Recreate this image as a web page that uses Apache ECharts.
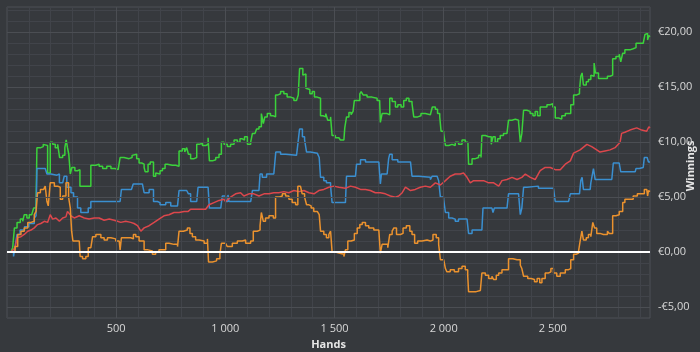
<!DOCTYPE html>
<html>
<head>
<meta charset="utf-8">
<script src="https://cdn.jsdelivr.net/npm/echarts@6/dist/echarts.min.js"></script>
<style>
html,body{margin:0;padding:0;background:#36393d;}
#chart{width:700px;height:352px;}
</style>
</head>
<body>
<div id="chart"></div>
<script>
// Tick labels
const xMajorTicks = [500, 1000, 1500, 2000, 2500];
const yMajorTicks = [-5, 0, 5, 10, 15, 20];

// Series data: [hand, winnings €]
const green = [[0,0],[18,0.1],[26,0.4],[34,2.2],[46,2.7],[61,3.0],[72,2.8],[79,3.4],[91,3.1],[102,3.4],[113,3.3],[122,4.0],[133,4.2],[137,9.5],[155,9.6],[166,9.8],[175,9.7],[186,7.2],[193,7.2],[198,10.0],[209,9.8],[221,9.5],[232,9.8],[241,8.6],[255,8.8],[265,9.5],[271,10.2],[277,9.5],[283,8.9],[290,7.1],[297,7.7],[311,7.4],[323,7.5],[334,6.0],[372,6.0],[384,7.9],[407,8.0],[422,7.8],[438,7.6],[457,7.8],[476,7.6],[494,7.5],[509,7.4],[518,8.6],[536,8.5],[559,8.6],[573,8.8],[582,8.9],[594,8.5],[605,8.1],[617,8.0],[628,7.7],[633,7.3],[646,8.0],[656,8.2],[663,8.2],[671,6.9],[681,7.2],[689,7.1],[701,7.4],[712,7.6],[724,8.0],[735,7.9],[757,7.9],[773,7.8],[788,9.2],[803,9.4],[814,9.1],[823,9.5],[831,8.9],[841,8.5],[857,8.6],[869,9.8],[880,9.9],[895,9.7],[910,9.8],[921,10.4],[927,8.3],[941,8.4],[956,8.6],[971,8.9],[982,10.0],[994,9.8],[1009,9.6],[1024,9.8],[1040,10.2],[1055,10.0],[1067,10.3],[1078,10.2],[1088,10.5],[1101,9.8],[1116,10.0],[1124,10.8],[1136,10.9],[1143,11.2],[1154,11.4],[1165,12.6],[1174,11.7],[1181,12.3],[1192,12.6],[1207,12.4],[1220,12.3],[1230,14.3],[1241,14.4],[1253,14.6],[1268,14.4],[1283,14.1],[1299,14.0],[1314,13.8],[1326,13.7],[1334,14.3],[1340,16.7],[1349,16.7],[1355,16.1],[1363,16.2],[1369,14.9],[1378,14.8],[1387,14.4],[1398,14.6],[1408,14.1],[1421,14.1],[1430,14.0],[1436,12.4],[1448,12.3],[1460,12.6],[1469,12.0],[1482,12.3],[1489,10.6],[1504,10.4],[1520,10.5],[1527,10.2],[1543,10.2],[1547,11.3],[1555,12.3],[1566,12.7],[1576,12.5],[1585,12.8],[1591,13.8],[1604,13.8],[1616,14.4],[1622,14.6],[1631,14.3],[1649,14.1],[1672,14.0],[1695,13.8],[1707,13.6],[1710,11.8],[1718,12.6],[1741,12.5],[1753,14.0],[1764,13.7],[1779,13.2],[1790,13.4],[1805,13.2],[1817,13.8],[1829,14.0],[1841,13.7],[1855,13.5],[1863,12.3],[1881,12.4],[1896,12.6],[1916,12.5],[1939,12.5],[1948,13.2],[1962,13.0],[1972,12.6],[1982,12.3],[1988,11.0],[2000,10.8],[2008,9.7],[2023,9.8],[2038,9.7],[2053,10.0],[2068,9.8],[2084,10.2],[2099,10.0],[2111,10.0],[2114,8.0],[2130,8.5],[2145,8.6],[2160,8.8],[2171,8.6],[2175,10.6],[2191,10.5],[2206,10.5],[2218,9.8],[2226,10.5],[2236,10.0],[2247,10.3],[2259,10.6],[2274,10.8],[2290,10.8],[2297,12.0],[2313,12.1],[2328,12.0],[2343,11.8],[2351,10.0],[2358,10.8],[2366,12.9],[2381,12.8],[2396,12.6],[2409,12.4],[2419,12.8],[2430,12.4],[2442,13.2],[2457,13.2],[2473,13.4],[2488,13.5],[2500,13.2],[2511,12.2],[2526,12.1],[2541,12.4],[2557,12.6],[2572,12.6],[2582,13.4],[2595,14.3],[2610,14.4],[2622,14.7],[2628,16.0],[2634,16.3],[2640,15.2],[2653,15.5],[2663,15.7],[2674,16.1],[2683,16.0],[2689,17.2],[2695,16.3],[2709,15.8],[2732,15.8],[2750,16.0],[2762,16.1],[2774,17.6],[2789,17.8],[2804,18.0],[2811,17.3],[2820,18.1],[2830,18.4],[2853,18.5],[2868,18.6],[2881,19.0],[2899,19.0],[2914,19.1],[2922,19.8],[2929,19.9],[2934,19.3],[2940,19.7],[2945,19.6]];

const blue = [[0,0],[18,0],[30,-0.4],[37,0.5],[46,1.6],[60,2.0],[80,2.3],[100,2.6],[125,3.1],[133,3.3],[137,7.6],[175,7.6],[183,7.1],[201,7.0],[229,7.1],[240,6.3],[255,6.3],[262,6.9],[274,5.9],[293,5.4],[305,5.0],[323,4.0],[338,3.6],[360,3.6],[372,4.0],[384,4.6],[430,4.6],[476,4.6],[518,4.6],[524,5.7],[570,5.8],[578,6.2],[620,6.2],[628,5.4],[651,5.7],[671,4.6],[689,4.5],[701,4.3],[727,4.5],[750,4.2],[781,4.2],[788,5.6],[823,5.6],[831,5.3],[841,4.6],[869,4.6],[875,5.9],[921,5.9],[927,4.0],[979,4.0],[986,5.1],[1001,4.6],[1012,5.2],[1017,4.6],[1116,4.6],[1124,5.6],[1154,5.7],[1159,7.1],[1169,6.8],[1189,7.1],[1222,7.1],[1231,9.1],[1253,8.9],[1276,8.8],[1326,8.8],[1332,9.8],[1340,11.2],[1347,11.2],[1353,10.5],[1363,10.2],[1372,9.1],[1390,9.0],[1421,8.9],[1430,8.6],[1436,6.8],[1451,6.5],[1463,6.3],[1482,6.0],[1489,4.5],[1550,4.5],[1555,6.9],[1596,6.9],[1601,8.0],[1619,8.4],[1642,8.2],[1703,8.2],[1707,7.1],[1710,6.2],[1715,7.1],[1741,7.2],[1748,8.5],[1753,8.9],[1764,8.4],[1790,8.2],[1848,8.2],[1855,6.9],[1886,6.8],[1939,6.6],[1947,6.9],[1970,6.8],[1977,6.5],[1985,5.0],[2000,4.8],[2008,3.6],[2023,3.1],[2038,3.0],[2053,2.8],[2068,3.0],[2107,3.0],[2114,1.7],[2130,2.0],[2175,2.0],[2180,4.0],[2221,4.0],[2226,3.6],[2232,4.0],[2290,4.0],[2297,5.3],[2343,5.3],[2351,3.4],[2358,4.0],[2366,5.9],[2381,6.0],[2434,5.8],[2503,5.8],[2511,4.6],[2572,4.6],[2580,5.3],[2622,5.3],[2628,6.5],[2634,6.8],[2640,5.7],[2671,5.7],[2674,6.3],[2683,6.3],[2686,7.6],[2694,6.6],[2770,6.6],[2777,8.1],[2804,8.1],[2811,7.3],[2877,7.3],[2881,7.6],[2896,7.7],[2914,7.8],[2919,8.6],[2932,8.6],[2938,8.2],[2945,8.2]];

const red = [[0,0],[18,0],[37,0.4],[46,1.3],[64,1.4],[79,1.6],[95,1.9],[110,2.0],[125,2.2],[140,2.5],[155,2.6],[171,2.8],[186,2.7],[198,3.4],[209,3.0],[224,3.1],[240,2.8],[255,3.1],[270,3.2],[277,3.7],[293,3.3],[308,3.1],[331,3.3],[354,3.1],[376,3.0],[399,3.1],[422,3.1],[445,2.9],[468,3.0],[491,2.9],[506,2.8],[521,2.7],[544,2.8],[567,2.7],[582,2.6],[598,2.4],[613,1.9],[628,2.2],[651,2.4],[674,2.7],[696,3.0],[719,3.3],[742,3.4],[765,3.6],[788,3.6],[811,3.7],[830,3.7],[841,3.9],[864,3.9],[887,3.9],[910,3.9],[925,4.3],[948,4.5],[971,4.7],[994,4.8],[1001,4.6],[1024,5.0],[1047,5.3],[1070,5.4],[1085,5.1],[1108,5.3],[1131,5.3],[1154,5.1],[1177,5.3],[1200,5.3],[1222,5.4],[1245,5.4],[1268,5.5],[1291,5.4],[1314,5.6],[1337,5.5],[1360,5.6],[1383,5.4],[1406,5.3],[1428,5.6],[1451,5.7],[1474,5.9],[1497,6.0],[1520,5.9],[1550,5.8],[1573,6.0],[1596,5.9],[1619,5.7],[1642,5.7],[1664,5.6],[1687,5.4],[1710,5.4],[1733,5.3],[1756,5.1],[1779,5.0],[1794,5.1],[1810,5.4],[1825,5.9],[1848,5.6],[1870,5.7],[1893,5.9],[1916,6.0],[1939,5.9],[1962,6.3],[1985,6.1],[2008,6.5],[2030,6.9],[2053,7.1],[2076,7.1],[2091,7.2],[2107,6.8],[2122,6.3],[2137,6.5],[2160,6.5],[2183,6.5],[2206,6.3],[2229,6.3],[2252,6.0],[2267,6.5],[2290,6.6],[2313,6.8],[2336,6.6],[2358,6.8],[2374,7.1],[2397,6.8],[2419,6.6],[2442,7.4],[2465,7.7],[2488,7.7],[2511,7.5],[2534,7.5],[2557,8.0],[2580,8.3],[2595,9.0],[2625,9.3],[2656,9.8],[2678,9.6],[2701,9.3],[2716,9.1],[2739,9.2],[2762,9.3],[2785,9.5],[2808,10.0],[2815,10.8],[2830,10.9],[2853,11.1],[2884,11.3],[2907,11.1],[2930,11.0],[2940,11.4],[2945,11.3]];

const orange = [[0,0],[18,0],[37,0.5],[49,1.6],[64,1.9],[79,2.2],[95,2.7],[110,2.8],[125,3.4],[133,3.7],[140,5.4],[153,5.7],[168,5.6],[175,6.0],[183,4.6],[189,4.2],[198,6.3],[217,6.0],[232,5.9],[244,4.8],[255,5.1],[270,6.3],[282,5.0],[290,4.0],[296,1.9],[302,1.0],[316,1.0],[331,1.0],[335,-0.4],[346,-0.6],[361,-0.4],[372,0.4],[384,0.4],[392,1.4],[407,1.6],[430,1.3],[445,1.1],[460,1.3],[476,1.2],[498,1.0],[514,1.0],[518,0.2],[524,1.3],[544,1.3],[567,1.2],[579,1.6],[590,1.4],[605,1.0],[628,0.2],[646,0.1],[666,-0.2],[681,0.0],[696,0.2],[712,0.2],[727,0.8],[742,0.7],[765,0.7],[781,0.5],[788,1.9],[808,2.0],[826,2.2],[838,1.7],[849,1.4],[864,1.1],[880,1.0],[903,0.8],[918,1.2],[923,-0.9],[941,-0.8],[960,-0.6],[975,-0.2],[982,0.8],[1001,0.7],[1009,0.5],[1032,0.8],[1055,1.0],[1078,1.1],[1093,0.8],[1116,1.0],[1128,1.9],[1146,2.0],[1159,2.4],[1165,3.6],[1174,2.8],[1184,3.1],[1200,3.3],[1220,3.1],[1230,5.0],[1245,5.1],[1261,5.3],[1276,5.1],[1291,4.8],[1306,4.5],[1322,4.3],[1332,6.0],[1344,6.0],[1352,5.3],[1363,5.0],[1372,4.3],[1383,4.2],[1393,4.0],[1405,3.7],[1421,3.6],[1430,3.4],[1436,1.9],[1451,1.6],[1463,1.3],[1474,1.6],[1482,1.9],[1489,0.0],[1504,-0.1],[1524,-0.2],[1543,-0.4],[1550,0.2],[1561,1.0],[1576,1.1],[1591,1.7],[1604,2.2],[1616,2.5],[1627,2.7],[1642,2.4],[1657,2.2],[1680,2.0],[1703,1.9],[1710,-0.1],[1718,0.7],[1733,0.7],[1744,0.4],[1753,1.6],[1764,1.9],[1772,2.2],[1784,1.6],[1802,1.7],[1814,2.2],[1829,2.4],[1845,1.9],[1855,1.6],[1867,0.8],[1881,1.0],[1901,1.1],[1924,1.0],[1939,1.1],[1951,1.6],[1966,1.3],[1977,0.7],[1985,-0.7],[2000,-0.7],[2008,-1.5],[2015,-1.8],[2030,-1.6],[2049,-1.8],[2068,-1.5],[2084,-1.3],[2099,-1.6],[2110,-2.1],[2114,-3.6],[2130,-3.6],[2149,-3.5],[2168,-3.5],[2175,-1.9],[2191,-2.1],[2206,-2.4],[2221,-2.2],[2229,-2.5],[2241,-2.1],[2252,-1.9],[2267,-1.6],[2282,-1.6],[2297,-0.6],[2317,-0.7],[2336,-0.7],[2351,-1.2],[2358,-1.5],[2366,-2.2],[2385,-2.4],[2400,-2.5],[2416,-2.7],[2428,-2.4],[2440,-2.8],[2450,-2.4],[2465,-1.9],[2480,-1.8],[2491,-1.5],[2503,-1.9],[2518,-2.2],[2534,-1.9],[2557,-1.6],[2572,-1.5],[2582,-0.7],[2595,-0.2],[2607,-0.1],[2618,0.1],[2625,1.0],[2633,1.9],[2640,1.1],[2653,1.3],[2663,1.6],[2674,1.4],[2683,2.7],[2691,2.2],[2701,1.7],[2716,1.6],[2732,1.6],[2750,1.9],[2759,1.7],[2774,3.3],[2789,3.4],[2804,3.7],[2820,4.5],[2830,4.8],[2853,4.8],[2868,5.1],[2887,5.3],[2907,5.3],[2919,5.7],[2930,5.6],[2934,5.1],[2938,5.6],[2945,5.5]];

const chart = echarts.init(document.getElementById('chart'), null, {renderer: 'canvas'});
const FONT = 'Open Sans, Noto Sans, sans-serif';

function fmtHands(v) {
  return xMajorTicks.indexOf(v) >= 0 ? String(v).replace(/\B(?=(\d{3})+(?!\d))/g, ' ') : '';
}
function fmtEuro(v) {
  if (yMajorTicks.indexOf(v) < 0) return '';
  return (v < 0 ? '-€' : '€') + Math.abs(v).toFixed(2).replace('.', ',');
}

const majorLines = [];
yMajorTicks.forEach(v => { if (v !== 0) majorLines.push({yAxis: v}); });
xMajorTicks.forEach(v => majorLines.push({xAxis: v}));

function stepSeries(name, data, color, step) {
  return {
    name: name, type: 'line', data: data, step: step,
    showSymbol: false, symbol: 'none', z: 3,
    lineStyle: {color: color, width: 1.5},
    itemStyle: {color: color},
    emphasis: {disabled: true}, silent: true
  };
}

chart.setOption({
  backgroundColor: '#36393d',
  animation: false,
  grid: {left: 7, right: 50, top: 7, bottom: 34, containLabel: false, outerBoundsMode: 'none',
         show: true, borderColor: '#4d5055', borderWidth: 1},
  xAxis: {
    type: 'value', min: 0, max: 2945, interval: 100,
    name: 'Hands', nameLocation: 'middle', nameGap: 21,
    nameTextStyle: {color: '#e6e6e6', fontSize: 11, fontWeight: 'bold', fontFamily: FONT},
    axisLine: {show: false}, axisTick: {show: false},
    axisLabel: {formatter: fmtHands, color: '#d8d8d8', fontSize: 11, fontFamily: FONT, margin: 5, showMinLabel: false, showMaxLabel: false},
    splitLine: {show: true, lineStyle: {color: '#41444a', width: 1}}
  },
  yAxis: {
    type: 'value', position: 'right', min: -6, max: 22.3, interval: 1,
    axisLine: {show: false}, axisTick: {show: false},
    axisLabel: {formatter: fmtEuro, color: '#d8d8d8', fontSize: 11, fontFamily: FONT, margin: 8, showMinLabel: false, showMaxLabel: false},
    splitLine: {show: true, lineStyle: {color: '#41444a', width: 1}}
  },
  graphic: [{
    type: 'text', x: 691, y: 166, rotation: Math.PI / 2, silent: true,
    style: {text: 'Winnings', fill: '#e6e6e6', font: 'bold 11px ' + FONT, align: 'center', verticalAlign: 'middle'}
  }],
  series: [
    {
      name: 'grid', type: 'line', data: [[0, 0]], symbol: 'none', z: 1, silent: true,
      lineStyle: {opacity: 0, width: 0},
      markLine: {silent: true, symbol: ['none', 'none'], label: {show: false},
        lineStyle: {color: '#4b4e53', width: 1, type: 'solid'}, emphasis: {disabled: true},
        data: majorLines}
    },
    stepSeries('Green', green, '#3bd23b', 'end'),
    stepSeries('Blue', blue, '#3a8fd0', 'end'),
    stepSeries('Red', red, '#dc474c', false),
    stepSeries('Orange', orange, '#eb922e', 'end'),
    {
      name: 'zero', type: 'line', data: [[0, 0]], symbol: 'none', z: 10, silent: true,
      lineStyle: {opacity: 0, width: 0},
      markLine: {silent: true, symbol: ['none', 'none'], label: {show: false},
        lineStyle: {color: '#ffffff', width: 2.2, type: 'solid'}, emphasis: {disabled: true},
        data: [{yAxis: 0}]}
    }
  ]
});
</script>
</body>
</html>
